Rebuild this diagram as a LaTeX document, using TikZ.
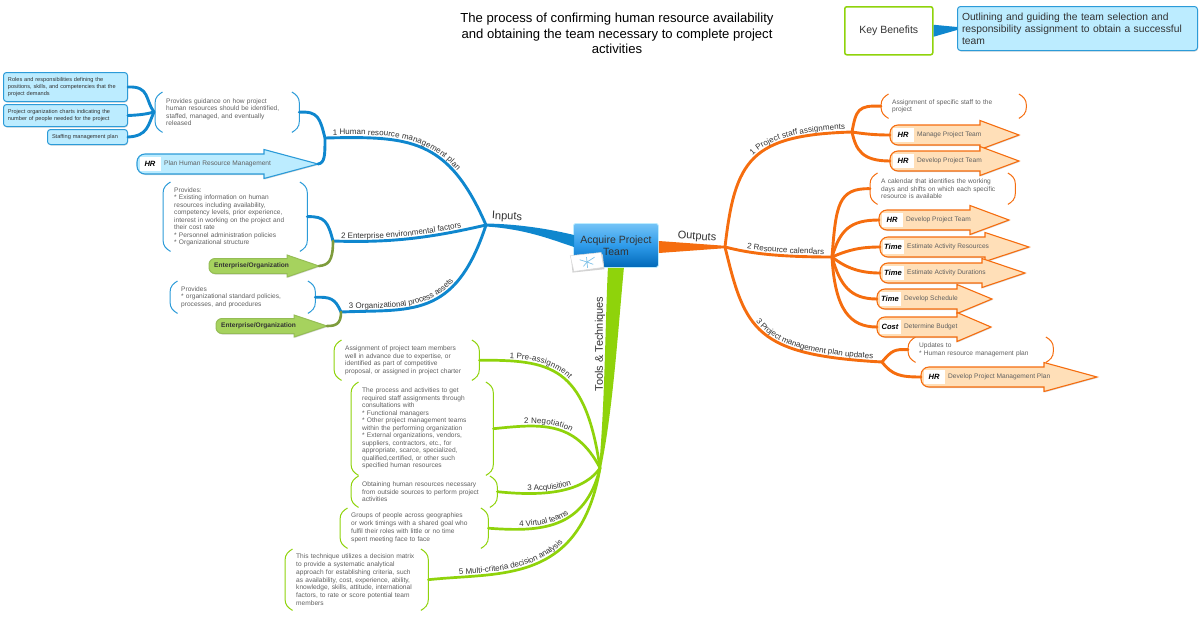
\documentclass[tikz,border=0pt]{standalone}
\usepackage{fontspec}
\setmainfont{Liberation Sans}
\usetikzlibrary{arrows.meta, positioning, calc, decorations.text, shadows}

\definecolor{inblue}{HTML}{0F87CE}
\definecolor{lightblue}{HTML}{BCECFF}
\definecolor{edgeblue}{HTML}{2C9BD8}
\definecolor{outorange}{HTML}{F56D0F}
\definecolor{lightorange}{HTML}{FFDFB8}
\definecolor{toolgreen}{HTML}{8FD30B}
\definecolor{envgreen}{HTML}{A6D25E}
\definecolor{olivegreen}{HTML}{7E9C3C}
\definecolor{labelgray}{HTML}{333333}
\definecolor{notegray}{HTML}{606060}
\definecolor{topictop}{HTML}{74C4F7}
\definecolor{topicmid}{HTML}{2E9BEA}
\definecolor{topicbottom}{HTML}{0068B8}

\newcommand{\lblfont}{\fontsize{8}{9}\selectfont\color{labelgray}}

% left end, middle, neck, tip: arrow with a white tag
\newcommand{\procarrow}[8][orangearrow]{%
  \draw[#1] (#5,#4-10) [rounded corners=8pt] -- (#3,#4-10) -- (#3,#4+10) [sharp corners]
    -- (#5,#4+10) -- (#5,#4+14.5) -- (#6,#4) -- (#5,#4-14.5) -- cycle;
  \coordinate (#2) at (#3,#4);
  \coordinate (#2 tip) at (#6,#4);
  \node (#2 tag) [tagbox] at (#3+13,#4) {#7};
  \node (#2 txt) [arrowtxt] at (#3+27,#4) {#8};
}
% same without tag, for the enterprise arrows
\newcommand{\envarrow}[5]{%
  \draw[greenarrow] (#4,#3-7.5) [rounded corners=6pt] -- (#2,#3-7.5) -- (#2,#3+7.5) [sharp corners]
    -- (#4,#3+7.5) -- (#4,#3+11) -- (#5,#3) -- (#4,#3-11) -- cycle;
  \coordinate (#1 tip) at (#5,#3);
  \node (#1) [envtxt] at (#2+5,#3) {Enterprise/Organization};
}
% round brackets on both sides of a note
\newcommand{\brackets}[2]{%
  \draw[#2, line width=1] ($(#1.north west)+(7.5,0)$) .. controls ($(#1.north west)+(3.5,2.5)$) and ($(#1.north west)+(0,5)$) .. ($(#1.north west)+(0,11.5)$)
    -- ($(#1.south west)+(0,-11.5)$) .. controls ($(#1.south west)+(0,-5)$) and ($(#1.south west)+(3.5,-2.5)$) .. ($(#1.south west)+(7.5,0)$);
  \draw[#2, line width=1] ($(#1.north east)+(-7.5,0)$) .. controls ($(#1.north east)+(-3.5,2.5)$) and ($(#1.north east)+(0,5)$) .. ($(#1.north east)+(0,11.5)$)
    -- ($(#1.south east)+(0,-11.5)$) .. controls ($(#1.south east)+(0,-5)$) and ($(#1.south east)+(-3.5,-2.5)$) .. ($(#1.south east)+(-7.5,0)$);
}

\begin{document}
\begin{tikzpicture}[
    x=1pt, y=-1pt,
    note/.style={
        anchor=north west,
        align=left,
        inner xsep=11pt,
        inner ysep=0pt,
        text width=#1,
        text=notegray,
        font=\fontsize{6.6}{7.5}\selectfont
    },
    infobox/.style={
        anchor=north west,
        draw=edgeblue,
        fill=lightblue,
        rounded corners=3pt,
        line width=1,
        align=left,
        inner xsep=4.5pt,
        inner ysep=0pt,
        text=labelgray,
        font=\fontsize{5.6}{6.8}\selectfont,
        drop shadow={shadow xshift=0.5pt,shadow yshift=-1pt,opacity=0.3}
    },
    orangearrow/.style={
        draw=outorange,
        fill=lightorange,
        line width=1.1,
        drop shadow={shadow xshift=0.5pt,shadow yshift=-1pt,opacity=0.3}
    },
    bluearrow/.style={
        draw=edgeblue,
        fill=lightblue,
        line width=1.1,
        drop shadow={shadow xshift=0.5pt,shadow yshift=-1pt,opacity=0.3}
    },
    greenarrow/.style={
        draw=envgreen!90!black,
        fill=envgreen,
        line width=1,
        drop shadow={shadow xshift=0.5pt,shadow yshift=-1pt,opacity=0.3}
    },
    tagbox/.style={
        fill=white,
        minimum width=21pt,
        minimum height=14pt,
        inner sep=0pt,
        font=\fontsize{7.6}{8}\bfseries\itshape\selectfont
    },
    arrowtxt/.style={
        anchor=west,
        inner sep=0pt,
        text=notegray,
        font=\fontsize{6.6}{7.5}\selectfont
    },
    envtxt/.style={
        anchor=west,
        inner sep=0pt,
        text=labelgray,
        font=\fontsize{6.6}{7}\bfseries\selectfont
    },
    inbranch/.style={draw=inblue, line width=2.9, line cap=round},
    outbranch/.style={draw=outorange, line width=2.9, line cap=round},
    toolbranch/.style={draw=toolgreen, line width=2.7, line cap=round},
    envbranch/.style={draw=olivegreen, line width=2.6, line cap=round},
    branchlabel/.style 2 args={
        postaction={
            decorate,
            decoration={
                text along path,
                raise=2.8pt,
                text align={left indent=#1},
                text={|\lblfont|#2}
            }
        }
    },
    toplabel/.style={
        inner sep=0pt,
        text=labelgray,
        font=\fontsize{11}{12}\selectfont
    }
]
\useasboundingbox (0,0) rectangle (1200,619);

% Nodes
\node (title) [align=center, font=\fontsize{13.1}{15.5}\selectfont] at (617,33.5)
    {The process of confirming human resource availability\\and obtaining the team necessary to complete project\\activities};
\node (key) [draw=toolgreen, fill=white, line width=1.5, rounded corners=2pt, minimum width=88pt, minimum height=48pt, inner sep=0pt, text=labelgray, font=\fontsize{10.5}{12}\selectfont, anchor=north west] at (844,6) {Key Benefits};
\node (benefit) [infobox, minimum width=240pt, minimum height=44pt, text width=231pt, font=\fontsize{10.3}{12}\selectfont] at (957,6)
    {Outlining and guiding the team selection and\\responsibility assignment to obtain a successful\\team};

\node (team) [anchor=north west, top color=topictop, bottom color=topicbottom, middle color=topicmid, draw=lightblue, rounded corners=2.5pt, line width=0.8, minimum width=85pt, minimum height=44pt, inner sep=0pt, align=center, text=labelgray, font=\fontsize{10.5}{12}\selectfont] at (573,223)
    {Acquire Project\\Team};

\node (roles) [infobox, minimum width=124pt, minimum height=29pt, text width=115pt] at (3,72)
    {Roles and responsibilities defining the\\positions, skills, and competencies that the\\project demands};
\node (charts) [infobox, minimum width=124pt, minimum height=22pt, text width=115pt] at (3,104)
    {Project organization charts indicating the\\number of people needed for the project};
\node (staffing) [infobox, minimum width=80pt, minimum height=15pt, text width=71pt] at (47,129)
    {Staffing management plan};

\node (guide) [note=122pt, minimum height=40pt] at (155,92)
    {Provides guidance on how project\\human resources should be identified,\\staffed, managed, and eventually\\released};
\node (envinfo) [note=122pt, minimum height=69pt] at (163,182)
    {Provides:\\{}* Existing information on human\\resources including availability,\\competency levels, prior experience,\\interest in working on the project and\\their cost rate\\{}* Personnel administration policies\\{}* Organizational structure};
\node (assets) [note=123pt, minimum height=32pt] at (170,281)
    {Provides\\{}* organizational standard policies,\\processes, and procedures};

\node (specific) [note=123pt, minimum height=24pt] at (881,94)
    {Assignment of specific staff to the\\project};
\node (calendar) [note=123pt, minimum height=31pt] at (870,173)
    {A calendar that identifies the working\\days and shifts on which each specific\\resource is available};
\node (updates) [note=123pt, minimum height=25pt] at (908,337)
    {Updates to\\{}* Human resource management plan};

\node (pre) [note=123pt, minimum height=40pt] at (334,340)
    {Assignment of project team members\\well in advance due to expertise, or\\identified as part of competitive\\proposal, or assigned in project charter};
\node (nego) [note=120pt, minimum height=93pt] at (351,382)
    {The process and activities to get\\required staff assignments through\\consultations with\\{}* Functional managers\\{}* Other project management teams\\within the performing organization\\{}* External organizations, vendors,\\suppliers, contractors, etc., for\\appropriate, scarce, specialized,\\qualified,certified, or other such\\specified human resources};
\node (acq) [note=124pt, minimum height=31pt] at (351,476)
    {Obtaining human resources necessary\\from outside sources to perform project\\activities};
\node (virtual) [note=126pt, minimum height=40pt, font=\fontsize{6.6}{8}\selectfont] at (340,508)
    {Groups of people across geographies\\or work timings with a shared goal who\\fulfil their roles with little or no time\\spent meeting face to face};
\node (matrix) [note=121pt, minimum height=61pt, font=\fontsize{6.6}{7.7}\selectfont] at (285,549)
    {This technique utilizes a decision matrix\\to provide a systematic analytical\\approach for establishing criteria, such\\as availability, cost, experience, ability,\\knowledge, skills, attitude, international\\factors, to rate or score potential team\\members};

\brackets{guide}{edgeblue}
\brackets{envinfo}{edgeblue}
\brackets{assets}{edgeblue}
\brackets{specific}{outorange}
\brackets{calendar}{outorange}
\brackets{updates}{outorange}
\brackets{pre}{toolgreen}
\brackets{nego}{toolgreen}
\brackets{acq}{toolgreen}
\brackets{virtual}{toolgreen}
\brackets{matrix}{toolgreen}

% Arrows
\procarrow[bluearrow]{plan}{137}{164}{264}{318}{HR}{Plan Human Resource Management}
\envarrow{envone}{209}{266}{287}{319}
\envarrow{envtwo}{216}{326}{294}{327}

\procarrow{manage}{890}{135}{980}{1019}{HR}{Manage Project Team}
\procarrow{develop}{890}{161}{980}{1019}{HR}{Develop Project Team}
\procarrow{devteam}{879}{220}{970}{1009}{HR}{Develop Project Team}
\procarrow{actres}{880}{247}{985}{1029}{Time}{Estimate Activity Resources}
\procarrow{actdur}{880}{273}{982}{1025}{Time}{Estimate Activity Durations}
\procarrow{sched}{877}{299}{957}{992}{Time}{Develop Schedule}
\procarrow{budget}{877}{327}{957}{991}{Cost}{Determine Budget}
\procarrow{pmplan}{921}{377}{1044}{1097}{HR}{Develop Project Management Plan}

% Hubs
\coordinate (inhub) at (486,225);
\coordinate (outhub) at (725,247);
\coordinate (toolhub) at (600,468);
\coordinate (hrm) at (325,138);
\coordinate (eef) at (333,241);
\coordinate (opa) at (341,312);
\coordinate (psa) at (852,132);
\coordinate (cals) at (832,257);
\coordinate (pmu) at (882,362);
\coordinate (fork) at (154,112);

% Paths
\fill[inblue] ($(inhub)+(0,-1.5)$) .. controls (515,224) and (545,228) .. ($(team.north west)+(1,12)$) -- ($(team.north west)+(1,24)$) .. controls (550,239) and (525,229) .. ($(inhub)+(0,1.5)$) -- cycle;
\fill[outorange] ($(team.north east)+(0,18)$) -- ($(outhub)+(0,-1.2)$) -- ($(outhub)+(0,1.2)$) -- ($(team.north east)+(0,30)$) -- cycle;
\fill[toolgreen] ($(team.south)+(-8,0)$) .. controls (605,330) and (605,400) .. ($(toolhub)+(-1,0)$) -- ($(toolhub)+(1,0)$) .. controls (613,410) and (618,330) .. ($(team.south)+(8,0)$) -- cycle;
\node (inputs) [toplabel, rotate=-3] at (507,217) {Inputs};
\node (outputs) [toplabel, rotate=-4] at (697,237) {Outputs};
\node (tools) [toplabel, rotate=90] at (600,344) {Tools \& Techniques};
\fill[inblue] ($(key.east)+(0,-6)$) -- ($(benefit.west)+(0,-1.5)$) -- ($(benefit.west)+(0,1.5)$) -- ($(key.east)+(0,6)$) -- cycle;

\draw[inbranch, branchlabel={8pt}{1 Human resource management plan}] (hrm) .. controls (410,136) and (448,138) .. (inhub);
\draw[inbranch, branchlabel={8pt}{2 Enterprise environmental factors}] (eef) .. controls (390,243) and (430,238) .. (inhub);
\draw[inbranch, branchlabel={8pt}{3 Organizational process assets}] (opa) .. controls (410,309) and (455,320) .. (inhub);
\draw[inbranch] (guide.east) .. controls (318,111) and (320,118) .. (hrm);
\draw[inbranch] (plan tip) .. controls (325,163) and (325,155) .. (hrm);
\draw[inbranch] (envinfo.east) .. controls (325,216) and (328,222) .. (eef);
\draw[envbranch] (envone tip) .. controls (328,265) and (333,262) .. (eef);
\draw[inbranch] (assets.east) .. controls (330,297) and (335,298) .. (opa);
\draw[envbranch] (envtwo tip) .. controls (336,326) and (341,324) .. (opa);
\draw[inbranch] (roles.east) .. controls (150,86) and (145,100) .. (fork);
\draw[inbranch] (charts.east) .. controls (140,115) and (147,114) .. (fork);
\draw[inbranch] (staffing.east) .. controls (148,136) and (148,125) .. (fork);

\draw[outbranch, branchlabel={96pt}{1 Project staff assignments}] (outhub) .. controls (735,160) and (750,135) .. (psa);
\draw[outbranch, branchlabel={22pt}{2 Resource calendars}] (outhub) .. controls (745,252) and (770,257) .. (cals);
\draw[outbranch, branchlabel={82pt}{3 Project management plan updates}] (outhub) .. controls (745,330) and (755,355) .. (pmu);
\draw[outbranch] (psa) .. controls (856,110) and (858,105) .. (specific.west);
\draw[outbranch] (psa) .. controls (865,134) and (875,135) .. (manage);
\draw[outbranch] (psa) .. controls (856,150) and (862,161) .. (develop);
\draw[outbranch] (cals) .. controls (836,205) and (838,188) .. (calendar.west);
\draw[outbranch] (cals) .. controls (840,230) and (850,220) .. (devteam);
\draw[outbranch] (cals) .. controls (848,250) and (860,247) .. (actres);
\draw[outbranch] (cals) .. controls (846,268) and (860,273) .. (actdur);
\draw[outbranch] (cals) .. controls (840,285) and (850,299) .. (sched);
\draw[outbranch] (cals) .. controls (835,310) and (850,327) .. (budget);
\draw[outbranch] (pmu) .. controls (892,350) and (895,349) .. (updates.west);
\draw[outbranch] (pmu) .. controls (892,375) and (900,377) .. (pmplan);

\draw[toolbranch, branchlabel={30pt}{1 Pre-assignment}] (pre.east) .. controls (550,360) and (585,365) .. (toolhub);
\draw[toolbranch, branchlabel={31pt}{2 Negotiation}] (nego.east) .. controls (540,424) and (575,420) .. (toolhub);
\draw[toolbranch, branchlabel={30pt}{3 Acquisition}] (acq.east) .. controls (530,495) and (580,497) .. (toolhub);
\draw[toolbranch, branchlabel={31pt}{4 Virtual teams}] (virtual.east) .. controls (540,532) and (585,530) .. (toolhub);
\draw[toolbranch, branchlabel={31pt}{5 Multi-criteria decision analysis}] (matrix.east) .. controls (500,572) and (580,585) .. (toolhub);

% Map sheet on the topic
\begin{scope}[shift={(587,262)}, rotate=6]
    \fill[gray!35] (-15.5,-6) rectangle (16.5,9);
    \draw[gray!30, fill=white, line width=0.5] (-16,-8) -- (15,-8) -- (16,7) -- (-14,8) -- cycle;
    \draw[edgeblue!60, line width=0.7] (-7,-3) -- (0,0) -- (8,-4) (0,0) -- (-4,4) (0,0) -- (6,3) (0,-5) -- (0,6);
\end{scope}

\end{tikzpicture}
\end{document}
